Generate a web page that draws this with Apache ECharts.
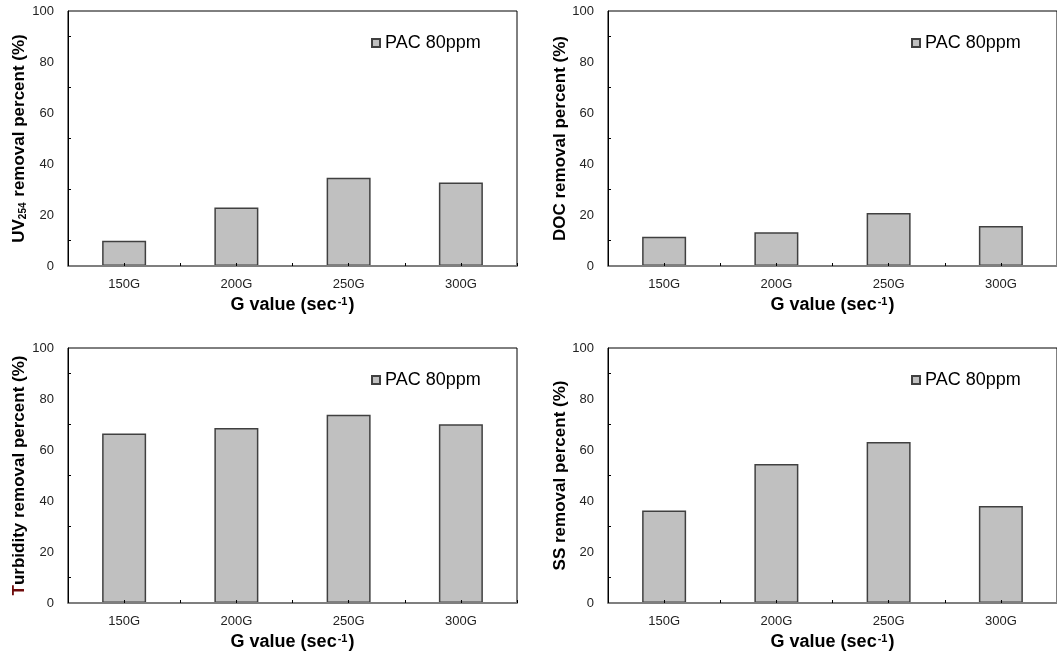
<!DOCTYPE html>
<html>
<head>
<meta charset="utf-8">
<script src="https://cdn.jsdelivr.net/npm/echarts@6/dist/echarts.min.js"></script>
<style>
  html, body { margin: 0; padding: 0; background: #fff; }
  #chart { width: 1057px; height: 655px; }
</style>
</head>
<body>
<div id="chart"></div>
<script>
// G values (sec^-1) tested with PAC 80 ppm
const categories = ['150G', '200G', '250G', '300G'];
const yTicks = [0, 20, 40, 60, 80, 100];
const seriesName = 'PAC 80ppm';

// Removal percentages (%)
const uv254Removal = [9.9, 22.9, 34.6, 32.7];
const docRemoval = [11.5, 13.2, 20.8, 15.7];
const turbidityRemoval = [66.5, 68.6, 73.8, 70.1];
const ssRemoval = [36.3, 54.5, 63.1, 38.0];

const FONT = '"Liberation Sans", Arial, sans-serif';

// one panel per parameter: plot box, y title (rich text) and values
const panels = [
  { left: 68, top: 11, width: 449, gap: 40,
    yName: '{b|UV}{sub|254}{b| removal percent (%)}', data: uv254Removal },
  { left: 608, top: 11, width: 450, gap: 38,
    yName: '{b|DOC removal percent (%)}', data: docRemoval },
  { left: 68, top: 348, width: 449, gap: 40,
    yName: '{t|T}{b|urbidity removal percent (%)}', data: turbidityRemoval },
  { left: 608, top: 348, width: 450, gap: 38,
    yName: '{b|SS removal percent (%)}', data: ssRemoval }
];

const PLOT_H = 255;
const grid = [], xAxis = [], yAxis = [], series = [], legend = [];

panels.forEach((p, i) => {
  grid.push({
    left: p.left, top: p.top, width: p.width, height: PLOT_H,
    show: true, borderColor: '#000', borderWidth: 1, backgroundColor: 'transparent'
  });

  // main category axis: ticks on category boundaries
  xAxis.push({
    type: 'category', gridIndex: i, data: categories, position: 'bottom',
    boundaryGap: true, z: 5,
    axisLine: { show: true, lineStyle: { color: '#7f7f7f', width: 2 } },
    axisTick: { show: true, inside: true, length: 3, interval: 0,
                lineStyle: { color: '#000', width: 1 } },
    axisLabel: { show: true, interval: 0, margin: 12, fontFamily: FONT,
                 fontSize: 13, color: '#222' },
    splitLine: { show: false },
    name: '{b|G value (sec}{sup|-1}{b|)}',
    nameLocation: 'middle', nameGap: 30,
    nameTextStyle: {
      rich: {
        b: { fontFamily: FONT, fontSize: 18, fontWeight: 'bold', color: '#000' },
        sup: { fontFamily: FONT, fontSize: 11, fontWeight: 'bold', color: '#000',
               verticalAlign: 'top', padding: [0, 1, 6, 1] }
      }
    }
  });
  // companion axis: ticks at category centres, drawn over the bars
  xAxis.push({
    type: 'category', gridIndex: i, data: categories, position: 'bottom', z: 6,
    axisLine: { show: false },
    axisTick: { show: true, inside: true, length: 3, interval: 0, alignWithLabel: true,
                lineStyle: { color: '#000', width: 1 } },
    axisLabel: { show: false },
    splitLine: { show: false }
  });

  yAxis.push({
    type: 'value', gridIndex: i, min: yTicks[0], max: yTicks[yTicks.length - 1],
    interval: yTicks[1] - yTicks[0],
    axisLine: { show: true, lineStyle: { color: '#000', width: 1 } },
    axisTick: { show: false, inside: true },
    minorTick: { show: true, splitNumber: 2, length: 3,
                 lineStyle: { color: '#000', width: 1 } },
    axisLabel: { margin: 14, fontFamily: FONT, fontSize: 13, color: '#222' },
    splitLine: { show: false },
    minorSplitLine: { show: false },
    name: p.yName, nameLocation: 'middle', nameGap: p.gap,
    nameTextStyle: {
      rich: {
        b: { fontFamily: FONT, fontSize: 17, fontWeight: 'bold', color: '#000' },
        t: { fontFamily: FONT, fontSize: 17, fontWeight: 'bold', color: '#6e0b0b' },
        sub: { fontFamily: FONT, fontSize: 10, fontWeight: 'bold', color: '#000',
               verticalAlign: 'bottom', padding: [5, 1, 0, 0] }
      }
    }
  });

  series.push({
    type: 'bar', name: seriesName,
    xAxisIndex: i * 2, yAxisIndex: i,
    data: p.data, barWidth: 44,
    itemStyle: { color: '#c0c0c0', borderColor: '#404040', borderWidth: 1.5 },
    emphasis: { disabled: true },
    silent: true
  });

  legend.push({
    show: true, left: p.left + 303, top: p.top + 23,
    orient: 'horizontal', padding: 0,
    itemWidth: 8, itemHeight: 8, icon: 'rect',
    data: [seriesName],
    textStyle: { fontFamily: FONT, fontSize: 18, color: '#000', lineHeight: 18 },
    seriesIndex: [i],
    selectedMode: false
  });
});

const chart = echarts.init(document.getElementById('chart'), null, { renderer: 'canvas' });
chart.setOption({
  animation: false,
  backgroundColor: '#fff',
  grid, xAxis, yAxis, series, legend
});
</script>
</body>
</html>
